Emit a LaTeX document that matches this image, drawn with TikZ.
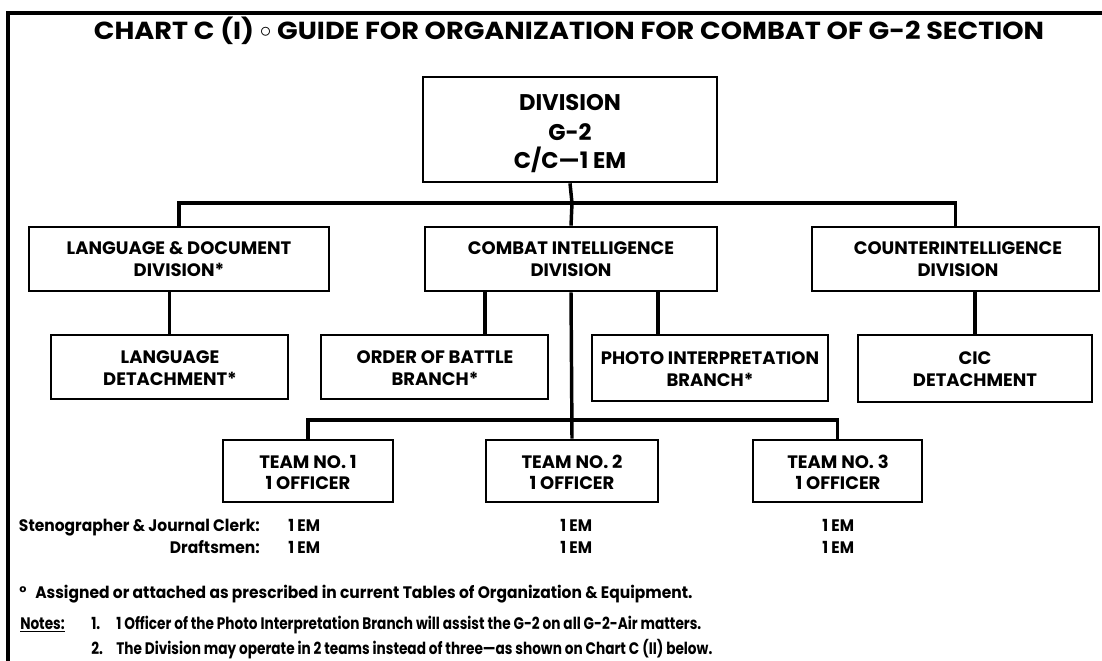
\documentclass[tikz,border=0pt]{standalone}
\usepackage{fontspec}
\setmainfont{Poppins}
\newfontfamily\ttlfont{Poppins}[FakeStretch=1.10]
\newfontfamily\bxfont{Poppins}[FakeStretch=1.0]
\newfontfamily\bodyfont{Poppins}[FakeStretch=0.93]
\newfontfamily\notefont{Poppins}[FakeStretch=0.82]
\usetikzlibrary{fit}
\begin{document}
\begin{tikzpicture}[x=0.75pt,y=-0.75pt,
  box/.style={draw, line width=2pt, inner sep=0pt},
  lbl/.style={inner sep=0pt, anchor=base, font=\bxfont\bfseries\fontsize{13.5}{16}\selectfont},
  biglbl/.style={lbl, font=\bxfont\bfseries\fontsize{17}{20}\selectfont},
  conn/.style={line width=2.6pt},
  frameline/.style={line width=2.4pt},
  body/.style={inner sep=0pt, font=\bodyfont\bfseries\fontsize{12.5}{14}\selectfont},
  note/.style={inner sep=0pt, anchor=base west, font=\notefont\bfseries\fontsize{12.5}{14}\selectfont}]
\useasboundingbox (0,0) rectangle (1102,660);
\draw[frameline] (8,661) -- (8,13) -- (1103,13);

\node[inner sep=0pt, anchor=base, font=\ttlfont\bfseries\fontsize{18.5}{20}\selectfont] (title) at (569,40)
  {CHART C (I) \raisebox{0.12em}{$\circ$} GUIDE FOR ORGANIZATION FOR COMBAT OF G-2 SECTION};

% boxes
\node[box, fit={(423,77) (717,182)}] (top) {};
\node[box, fit={(29,227) (329,291)}] (lang) {};
\node[box, fit={(425,227) (717,291)}] (combat) {};
\node[box, fit={(812,227) (1099,291)}] (counter) {};
\node[box, fit={(51,335) (288,399)}] (langdet) {};
\node[box, fit={(321,335) (548,399)}] (oob) {};
\node[box, fit={(592,335) (828,401)}] (photo) {};
\node[box, fit={(858,335) (1092,402)}] (cic) {};
\node[box, fit={(223,440) (393,502)}] (team1) {};
\node[box, fit={(486,440) (658,502)}] (team2) {};
\node[box, fit={(753,440) (922,502)}] (team3) {};

% box texts
\node[biglbl] (topa) at (570,110) {DIVISION};
\node[biglbl] (topb) at (570,140) {G-2};
\node[biglbl] (topc) at (570,168) {C/C—1 EM};

\node[lbl] (langa) at (179,254) {LANGUAGE \& DOCUMENT};
\node[lbl] (langb) at (179,276) {DIVISION*};
\node[lbl] (combata) at (571,254) {COMBAT INTELLIGENCE};
\node[lbl] (combatb) at (571,276) {DIVISION};
\node[lbl] (countera) at (958,254) {COUNTERINTELLIGENCE};
\node[lbl] (counterb) at (958,276) {DIVISION};

\node[lbl] (langdeta) at (170,363) {LANGUAGE};
\node[lbl] (langdetb) at (170,385) {DETACHMENT*};
\node[lbl] (ooba) at (435,363) {ORDER OF BATTLE};
\node[lbl] (oobb) at (435,385) {BRANCH*};
\node[lbl] (photoa) at (710,364) {PHOTO INTERPRETATION};
\node[lbl] (photob) at (710,386) {BRANCH*};
\node[lbl] (cica) at (975,364) {CIC};
\node[lbl] (cicb) at (975,386) {DETACHMENT};

\node[lbl] (team1a) at (308,468) {TEAM NO. 1};
\node[lbl] (team1b) at (308,489) {1 OFFICER};
\node[lbl] (team2a) at (572,468) {TEAM NO. 2};
\node[lbl] (team2b) at (572,489) {1 OFFICER};
\node[lbl] (team3a) at (838,468) {TEAM NO. 3};
\node[lbl] (team3b) at (838,489) {1 OFFICER};

% connectors
\coordinate (bus) at (572,203);
\coordinate (oobtap) at (485,291);
\coordinate (phototap) at (658,291);
\coordinate (tbus) at (572,420);

\draw[conn] (top.south) -- (bus);
\draw[conn] (lang.north) |- (bus) -| (counter.north);
\draw[conn] (bus) -- (combat.north);
\draw[conn] (langdet.north) -- (langdet.north |- lang.south);
\draw[conn] (oobtap) -- (oobtap |- oob.north);
\draw[conn] (phototap) -- (phototap |- photo.north);
\draw[conn] (cic.north) -- (cic.north |- counter.south);
\draw[conn] (combat.south) -- (team2.north);
\draw[conn] (team1.north) |- (tbus) -| (team3.north);

% staffing lines
\node[body, anchor=base east] (steno) at (260,531) {Stenographer \& Journal Clerk:};
\node[body, anchor=base east] (draft) at (260,553) {Draftsmen:};
\node[body, anchor=base west] (em1a) at (288,531) {1 EM};
\node[body, anchor=base west] (em1b) at (288,553) {1 EM};
\node[body, anchor=base west] (em2a) at (560,531) {1 EM};
\node[body, anchor=base west] (em2b) at (560,553) {1 EM};
\node[body, anchor=base west] (em3a) at (822,531) {1 EM};
\node[body, anchor=base west] (em3b) at (822,553) {1 EM};

% notes
\node[body, anchor=base west] (deg) at (19,598) {°};
\node[body, anchor=base west] (assigned) at (35,598)
  {Assigned or attached as prescribed in current Tables of Organization \& Equipment.};

\node[note] (notes) at (20,629) {\underline{Notes:}};
\node[note] (n1) at (91,629) {1.};
\node[note] (n1t) at (116,629)
  {1 Officer of the Photo Interpretation Branch will assist the G-2 on all G-2-Air matters.};
\node[note] (n2) at (91,654) {2.};
\node[note] (n2t) at (116,654)
  {The Division may operate in 2 teams instead of three—as shown on Chart C (II) below.};
\end{tikzpicture}
\end{document}
